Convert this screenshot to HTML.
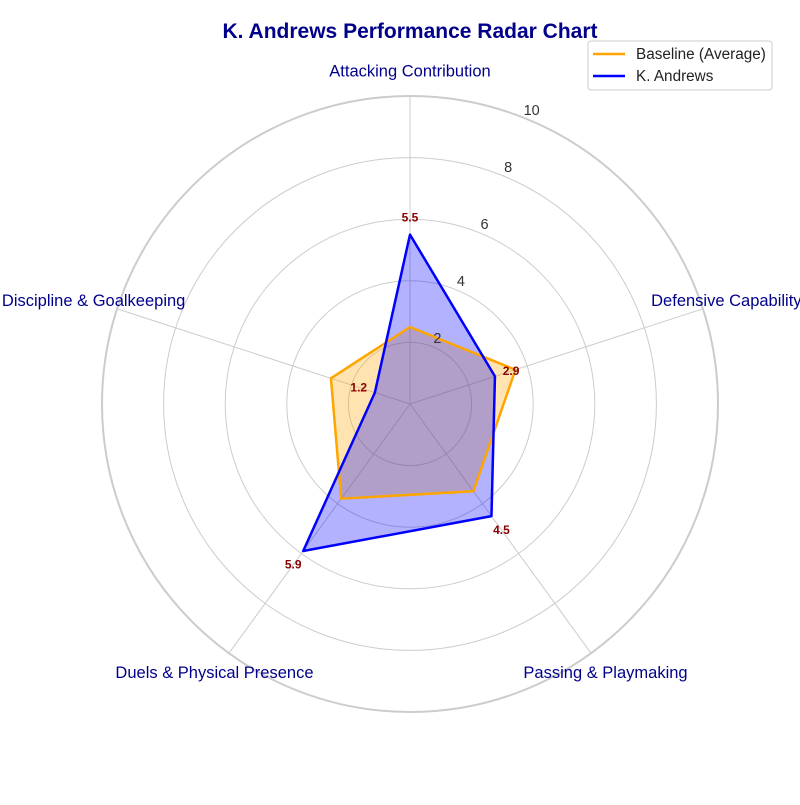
<!DOCTYPE html>
<html><head><meta charset="utf-8"><style>
body{margin:0;background:#fff;width:800px;height:800px;overflow:hidden;font-family:"Liberation Sans",sans-serif}
</style></head><body>
<svg id="chart" width="800" height="800" xmlns="http://www.w3.org/2000/svg">
<text x="410" y="38" text-anchor="middle" font-size="21" font-weight="bold" fill="#00008B">K. Andrews Performance Radar Chart</text>
<g id="grid"></g><g id="fills"></g><g id="lines"></g><g id="labels"></g>
<g>
<rect x="588" y="41" width="184" height="49" rx="3" fill="#fff" stroke="#ccc"/>
<line x1="593" y1="54" x2="625" y2="54" stroke="orange" stroke-width="2.5"/>
<text x="636" y="59" font-size="15.3" fill="#222">Baseline (Average)</text>
<line x1="593" y1="76" x2="625" y2="76" stroke="blue" stroke-width="2.5"/>
<text x="636" y="81" font-size="15.3" fill="#222">K. Andrews</text>
</g>
</svg>
<script>
const categories=["Attacking Contribution","Defensive Capability","Passing & Playmaking","Duels & Physical Presence","Discipline & Goalkeeping"];
const baseline=[2.5,3.6,3.5,3.8,2.7];
const andrews=[5.5,2.9,4.5,5.9,1.2];
const andrewsLabels=["5.5","2.9","4.5","5.9","1.2"];
const rTicks=[2,4,6,8,10];
const cx=410,cy=404,R=308,maxV=10;
const NS="http://www.w3.org/2000/svg";
function ang(i){return Math.PI/2-i*2*Math.PI/categories.length;}
function pt(i,v){const a=ang(i),r=v/maxV*R;return [cx+r*Math.cos(a),cy-r*Math.sin(a)];}
function mk(tag,attrs,parent,txt){const e=document.createElementNS(NS,tag);for(const k in attrs)e.setAttribute(k,attrs[k]);if(txt!==undefined)e.textContent=txt;document.getElementById(parent).appendChild(e);return e;}
rTicks.forEach(t=>{
 const c=mk('circle',{cx:cx,cy:cy,r:t/maxV*R,fill:'none',stroke:'#ccc','stroke-width':t===maxV?2:1},'grid');
 
 
 const a=67.5*Math.PI/180,r=t/maxV*R+10;
 const l=mk('text',{x:cx+r*Math.cos(a),y:cy-r*Math.sin(a)+5,'text-anchor':'middle','font-size':14.5,fill:'#333'},'labels',String(t));
 
 
});
categories.forEach((c,i)=>{
 const [x,y]=pt(i,maxV);
 const s=mk('line',{x1:cx,y1:cy,x2:x,y2:y,stroke:'#ccc','stroke-width':1},'grid');
 
 
 const [lx,ly]=pt(i,10.8);
 const t=mk('text',{x:lx,y:ly+5,'text-anchor':'middle','font-size':16.5,fill:'#00008B'},'labels',c);
 
 
});
function series(vals,color,name){
 const p=vals.map((v,i)=>pt(i,v).join(',')).join(' ');
 const f=mk('polygon',{points:p,fill:color,'fill-opacity':0.3,stroke:'none'},'fills');
 
 
 const g=mk('polygon',{points:p,fill:'none',stroke:color,'stroke-width':2.5,'stroke-linejoin':'round'},'lines');
 
 
}
series(baseline,'orange','baseline-series');
series(andrews,'blue','andrews-series');
andrews.forEach((v,i)=>{
 const [x,y]=pt(i,v+0.55);
 const t=mk('text',{x:x,y:y+4,'text-anchor':'middle','font-size':12,'font-weight':'bold',fill:'#8B0000'},'labels',andrewsLabels[i]);
 
 
});
</script>
</body></html>
